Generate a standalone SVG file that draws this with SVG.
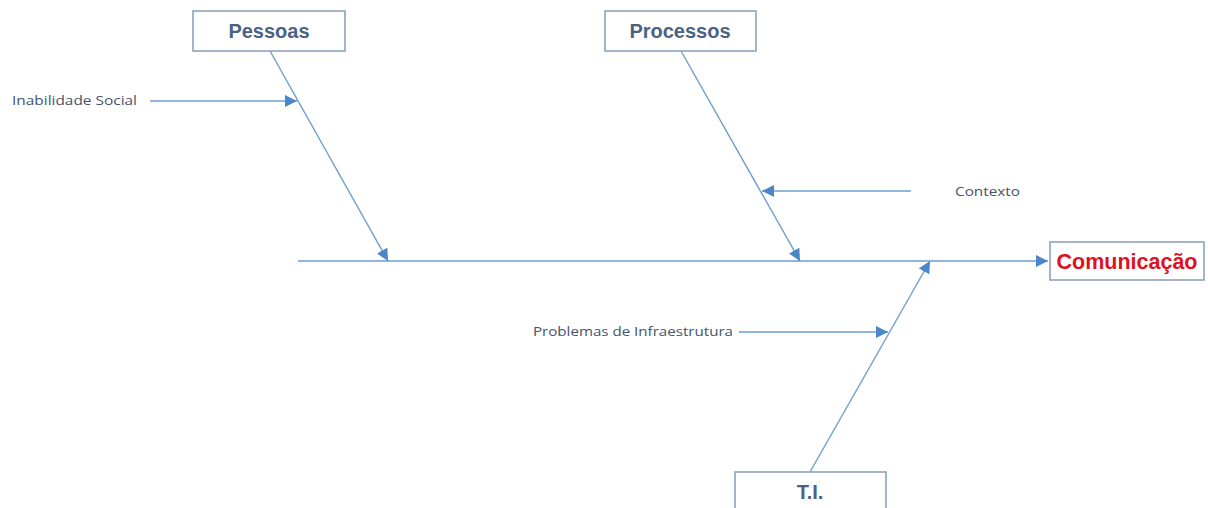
<svg xmlns="http://www.w3.org/2000/svg" width="1208" height="508" viewBox="0 0 1208 508">
  <defs>
    <marker id="tip" viewBox="0 0 10 10" refX="10" refY="5" markerWidth="12" markerHeight="12" markerUnits="userSpaceOnUse" orient="auto">
      <path d="M0,0 L10,5 L0,10 Z" fill="#4a86c8"/>
    </marker>
    <style>
      .bone { stroke: #6d9dd0; stroke-width: 1.4; fill: none; marker-end: url(#tip); }
      .box { fill: #ffffff; stroke: #8ea3bd; stroke-width: 1.6; }
      .cat { font-family: "Liberation Sans", Arial, sans-serif; font-weight: bold; font-size: 20px; fill: #4a6383; text-anchor: middle; }
      .effect { font-family: "Liberation Sans", Arial, sans-serif; font-weight: bold; font-size: 21.5px; fill: #e0101e; text-anchor: middle; }
      .cause { font-family: "Open Sans", "Liberation Sans", sans-serif; font-size: 12.5px; fill: #44546a; }
    </style>
  </defs>
  <rect width="1208" height="508" fill="#ffffff"/>

  <!-- spine and bones -->
  <g id="connectors">
    <line class="bone" x1="298" y1="261" x2="1048" y2="261"/>
    <line class="bone" x1="270" y1="51" x2="388" y2="261"/>
    <line class="bone" x1="681" y1="51" x2="800" y2="261"/>
    <line class="bone" x1="810" y1="472" x2="930" y2="261"/>
    <line class="bone" x1="150" y1="101" x2="297" y2="101"/>
    <line class="bone" x1="911" y1="191" x2="762" y2="191"/>
    <line class="bone" x1="739" y1="332" x2="888" y2="332"/>
  </g>

  <g id="pessoas">
    <rect class="box" x="193" y="11" width="152" height="40"/>
    <text class="cat" x="269" y="38">Pessoas</text>
  </g>
  <g id="processos">
    <rect class="box" x="605" y="11" width="151" height="40"/>
    <text class="cat" x="680" y="38">Processos</text>
  </g>
  <g id="ti">
    <rect class="box" x="735" y="472" width="151" height="50"/>
    <text class="cat" x="810" y="499">T.I.</text>
  </g>
  <g id="comunicacao">
    <rect class="box" x="1050" y="242" width="154" height="38"/>
    <text class="effect" x="1127" y="269">Comunicação</text>
  </g>

  <g id="inabilidade-social">
    <text class="cause" x="12" y="105" textLength="125" lengthAdjust="spacingAndGlyphs">Inabilidade Social</text>
  </g>
  <g id="contexto">
    <text class="cause" x="955" y="196" textLength="65" lengthAdjust="spacingAndGlyphs">Contexto</text>
  </g>
  <g id="problemas-infraestrutura">
    <text class="cause" x="533" y="336" textLength="200" lengthAdjust="spacingAndGlyphs">Problemas de Infraestrutura</text>
  </g>
</svg>
